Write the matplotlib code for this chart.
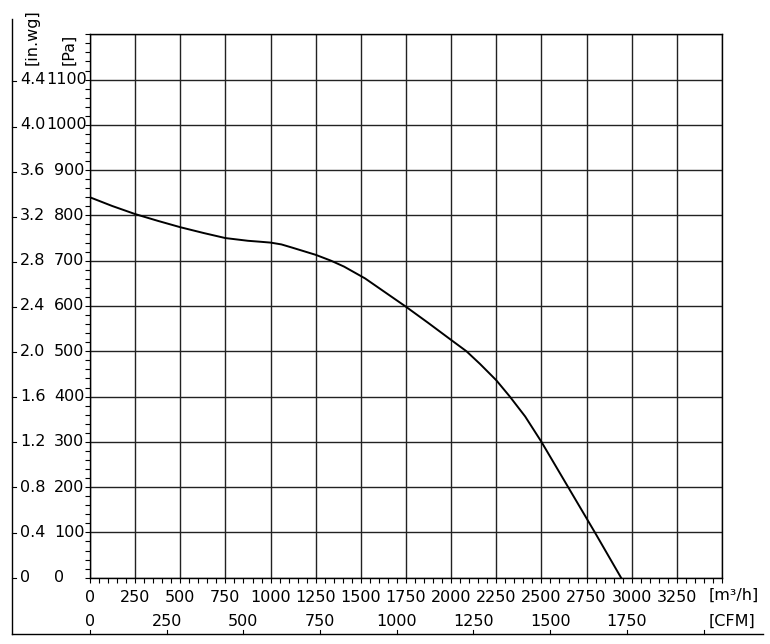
import matplotlib
matplotlib.use('Agg')
import matplotlib.pyplot as plt
from matplotlib.lines import Line2D
from matplotlib.transforms import blended_transform_factory
import numpy as np

# fan curve
flow = [0, 122, 250, 376, 500, 631, 750, 875, 940, 1000, 1060, 1119, 1250, 1335,
        1407, 1523, 1744, 1872, 2000, 2085, 2160, 2250, 2325, 2410, 2500, 2648,
        2796, 2941]
pressure = [840, 821, 803, 788, 774, 761, 750, 744, 742, 740, 736, 729, 713, 700,
            687, 661, 600, 563, 525, 500, 472, 436, 400, 356, 300, 200,
            100, 0]

flow_ticks = np.arange(0, 3501, 250)
pa_ticks = np.arange(0, 1101, 100)
inwg_ticks = [0, 0.4, 0.8, 1.2, 1.6, 2.0, 2.4, 2.8, 3.2, 3.6, 4.0, 4.4]
cfm_ticks = np.arange(0, 2001, 250)

PA_PER_INWG = 249.089
M3H_PER_CFM = 1.699

W, H = 770, 644
FS = 11.5
plt.rcParams['font.family'] = ['DejaVu Sans Condensed', 'DejaVu Sans']


def fx(px):
    return px / W


def fy(py):
    return 1 - py / H


fig = plt.figure(figsize=(W / 100, H / 100), dpi=100)
ax = fig.add_axes([fx(90), fy(577.7), fx(722) - fx(90), fy(34.3) - fy(577.7)])

ax.plot(flow, pressure, color='black', lw=1.4, zorder=3)

ax.set_xlim(0, 3500)
ax.set_ylim(0, 1200)
ax.set_xticks(flow_ticks)
ax.set_xticklabels([str(v) for v in flow_ticks[:-1]] + [''], fontsize=FS)
ax.set_xticks(np.arange(0, 3501, 50), minor=True)
ax.set_yticks(np.arange(0, 1201, 100))
ax.set_yticklabels([])
ax.set_yticks(np.arange(0, 1201, 20), minor=True)
ax.tick_params(axis='both', which='both', direction='out', length=3.5, width=0.8, color='black')
ax.tick_params(axis='x', pad=5)
ax.grid(which='major', color='#222222', lw=1.0)
for sp in ax.spines.values():
    sp.set_linewidth(1.0)
    sp.set_color('black')

# Pa labels
tr_y = blended_transform_factory(fig.transFigure, ax.transData)
for v in pa_ticks:
    left = 46.7 if v >= 1000 else 54
    fig.text(fx(left), v, str(v), transform=tr_y, ha='left', va='center', fontsize=FS)

# in.wg axis on the outer frame
for i, v in enumerate(inwg_ticks):
    y = v * PA_PER_INWG
    fig.add_artist(Line2D([fx(11.7), fx(16)], [y, y], transform=tr_y, color='black', lw=0.8))
    lab = '0' if v == 0 else f'{v:.1f}'
    fig.text(fx(20), pa_ticks[i], lab, transform=tr_y, ha='left', va='center', fontsize=FS)

# CFM axis on the outer frame
tr_x = blended_transform_factory(ax.transData, fig.transFigure)
for c in cfm_ticks:
    x = c * M3H_PER_CFM
    fig.add_artist(Line2D([x, x], [fy(634), fy(630)], transform=tr_x, color='black', lw=0.8))
    if c < 2000:
        fig.text(x, fy(621), str(c), transform=tr_x, ha='center', va='center', fontsize=FS)

fig.add_artist(Line2D([fx(11.7), fx(11.7)], [fy(19.3), fy(634)], color='black', lw=1.0))
fig.add_artist(Line2D([fx(11.7), fx(763)], [fy(634), fy(634)], color='black', lw=1.0))

fig.text(fx(709), fy(595), '[m³/h]', ha='left', va='center', fontsize=FS)
fig.text(fx(709), fy(621), '[CFM]', ha='left', va='center', fontsize=FS)
fig.text(fx(32), fy(65), '[in.wg]', ha='center', va='bottom', rotation=90, fontsize=FS)
fig.text(fx(68.5), fy(65), '[Pa]', ha='center', va='bottom', rotation=90, fontsize=FS)

fig.savefig('out.png', dpi=100)
